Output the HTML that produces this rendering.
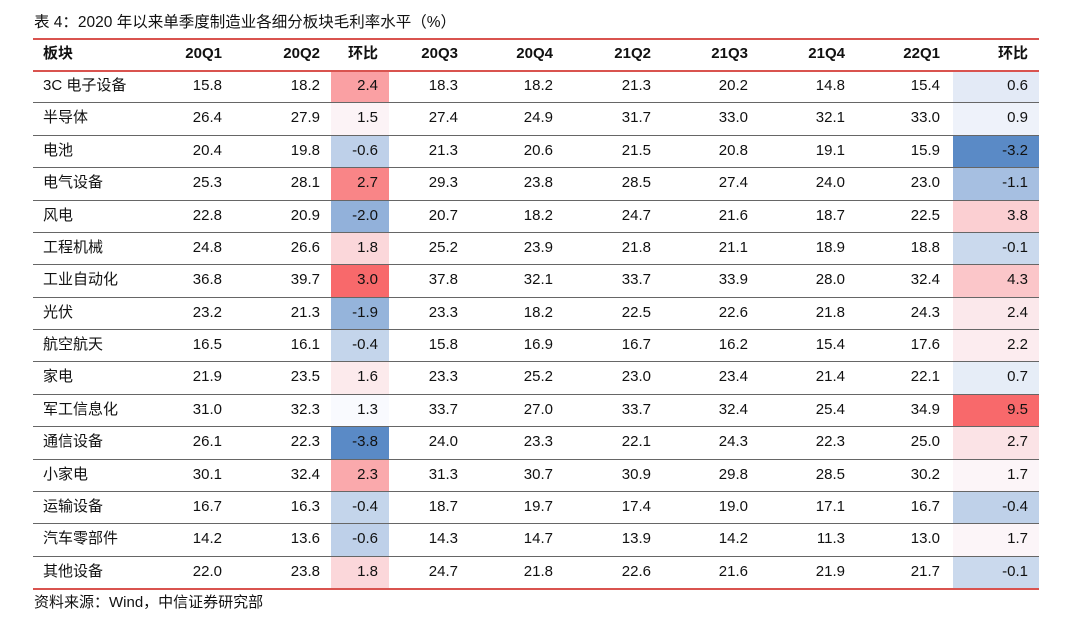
<!DOCTYPE html>
<html><head><meta charset="utf-8"><style>
body{margin:0;background:#fff;width:1080px;height:619px;position:relative;overflow:hidden;font-family:"Liberation Sans","Noto Sans CJK SC",sans-serif;color:#111}
.t{position:absolute;white-space:nowrap;font-size:15px;line-height:20px}
.cell{position:absolute}
.ln{position:absolute;left:33px;width:1006px;height:1px}
</style></head><body>
<div class="t" style="left:34px;top:13px;font-size:15.5px">表 4：2020 年以来单季度制造业各细分板块毛利率水平（%）</div>
<div id="tbl"></div>
<div class="t" style="left:34px;top:593px;font-size:15px">资料来源：Wind，中信证券研究部</div>
<script>
const headers=["板块","20Q1","20Q2","环比","20Q3","20Q4","21Q2","21Q3","21Q4","22Q1","环比"];
const sectors=["3C 电子设备","半导体","电池","电气设备","风电","工程机械","工业自动化","光伏","航空航天","家电","军工信息化","通信设备","小家电","运输设备","汽车零部件","其他设备"];
const q20Q1=[15.8,26.4,20.4,25.3,22.8,24.8,36.8,23.2,16.5,21.9,31.0,26.1,30.1,16.7,14.2,22.0];
const q20Q2=[18.2,27.9,19.8,28.1,20.9,26.6,39.7,21.3,16.1,23.5,32.3,22.3,32.4,16.3,13.6,23.8];
const chg1=[2.4,1.5,-0.6,2.7,-2.0,1.8,3.0,-1.9,-0.4,1.6,1.3,-3.8,2.3,-0.4,-0.6,1.8];
const q20Q3=[18.3,27.4,21.3,29.3,20.7,25.2,37.8,23.3,15.8,23.3,33.7,24.0,31.3,18.7,14.3,24.7];
const q20Q4=[18.2,24.9,20.6,23.8,18.2,23.9,32.1,18.2,16.9,25.2,27.0,23.3,30.7,19.7,14.7,21.8];
const q21Q2=[21.3,31.7,21.5,28.5,24.7,21.8,33.7,22.5,16.7,23.0,33.7,22.1,30.9,17.4,13.9,22.6];
const q21Q3=[20.2,33.0,20.8,27.4,21.6,21.1,33.9,22.6,16.2,23.4,32.4,24.3,29.8,19.0,14.2,21.6];
const q21Q4=[14.8,32.1,19.1,24.0,18.7,18.9,28.0,21.8,15.4,21.4,25.4,22.3,28.5,17.1,11.3,21.9];
const q22Q1=[15.4,33.0,15.9,23.0,22.5,18.8,32.4,24.3,17.6,22.1,34.9,25.0,30.2,16.7,13.0,21.7];
const chg2=[0.6,0.9,-3.2,-1.1,3.8,-0.1,4.3,2.4,2.2,0.7,9.5,2.7,1.7,-0.4,1.7,-0.1];

const cols=[null,q20Q1,q20Q2,chg1,q20Q3,q20Q4,q21Q2,q21Q3,q21Q4,q22Q1,chg2];
const rightEdge=[0,222,320,378,458,553,651,748,845,940,1028];
const heat={3:[331,389],10:[953,1039]};
const top0=38,hh=32,rh=32.375;
const tbl=document.getElementById('tbl');
function median(a){const s=[...a].sort((x,y)=>x-y);const n=s.length;return n%2?s[(n-1)/2]:(s[n/2-1]+s[n/2])/2;}
function mix(c1,c2,t){return 'rgb('+c1.map((v,i)=>Math.round(v+(c2[i]-v)*t)).join(',')+')';}
const RED=[248,105,107],WHITE=[252,252,255],BLUE=[90,138,198];
function colorFor(v,arr){const mn=Math.min(...arr),mx=Math.max(...arr),md=median(arr);
 if(v>=md)return mix(WHITE,RED,mx===md?0:(v-md)/(mx-md));return mix(WHITE,BLUE,(md-v)/(md-mn));}
for(const k of [3,10]){const arr=cols[k];arr.forEach((v,i)=>{
 const d=document.createElement('div');d.className='cell';
 
 
 d.style.left=heat[k][0]+'px';d.style.width=(heat[k][1]-heat[k][0])+'px';
 d.style.top=(top0+hh+i*rh)+'px';d.style.height=rh+'px';d.style.background=colorFor(v,arr);tbl.appendChild(d);});}
function line(y,c,h,name){const d=document.createElement('div');d.className='ln';d.style.top=y+'px';d.style.background=c;d.style.height=h+'px';
 
 
 tbl.appendChild(d);}
line(top0,'#d9534f',1.5,'top-rule');line(top0+hh,'#d9534f',1.5,'header-rule');
for(let i=1;i<sectors.length;i++)line(top0+hh+i*rh,'#666',1,'row-divider');
line(top0+hh+sectors.length*rh,'#d9534f',1.5,'bottom-rule');
headers.forEach((h,j)=>{const d=document.createElement('div');d.className='t';d.textContent=h;d.style.fontWeight='bold';
 
 
 d.style.top=(top0+6)+'px';
 if(j===0)d.style.left='43px';else{d.style.right=(1080-rightEdge[j])+'px';}
 tbl.appendChild(d);});
sectors.forEach((s,i)=>{const y=top0+hh+i*rh+6;
 const l=document.createElement('div');l.className='t';l.textContent=s;l.style.left='43px';l.style.top=y+'px';
 
 
 tbl.appendChild(l);
 for(let j=1;j<cols.length;j++){const d=document.createElement('div');d.className='t';d.textContent=cols[j][i].toFixed(1);
  
  
  d.style.top=y+'px';d.style.right=(1080-rightEdge[j])+'px';tbl.appendChild(d);}
});
</script>
</body></html>
